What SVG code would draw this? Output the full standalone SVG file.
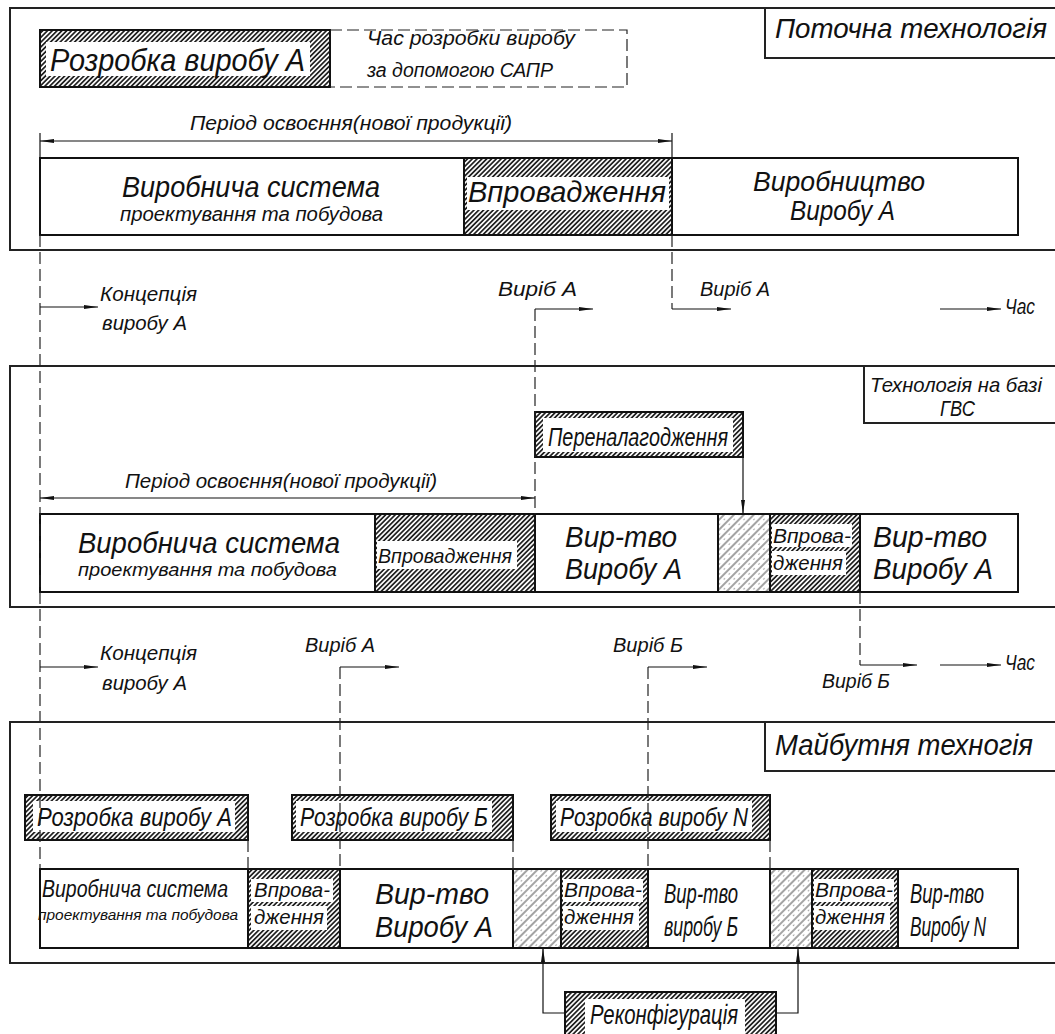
<svg xmlns="http://www.w3.org/2000/svg" width="1055" height="1034" viewBox="0 0 1055 1034">
<defs>
<pattern id="hd" width="3.4" height="3.4" patternUnits="userSpaceOnUse" patternTransform="rotate(45)">
<rect width="3.4" height="3.4" fill="#fff"/>
<line x1="0.9" y1="0" x2="0.9" y2="3.4" stroke="#1a1a1a" stroke-width="1.7"/>
</pattern>
<pattern id="hl" width="7" height="7" patternUnits="userSpaceOnUse" patternTransform="rotate(45)">
<rect width="7" height="7" fill="#fff"/>
<line x1="1" y1="0" x2="1" y2="7" stroke="#333" stroke-width="0.9"/>
<circle cx="4.5" cy="2" r="0.6" fill="#444"/>
</pattern>
<marker id="ar" viewBox="0 0 14 4" refX="14" refY="2" markerWidth="14" markerHeight="4" markerUnits="userSpaceOnUse" orient="auto-start-reverse">
<path d="M0,0 L14,2 L0,4 z" fill="#111"/>
</marker>
<style>
.t{font-family:"Liberation Sans","DejaVu Sans",sans-serif;font-style:italic;fill:#111}
.fr{fill:none;stroke:#222;stroke-width:2}
.bx{fill:#fff;stroke:#111;stroke-width:2}
.hb{fill:url(#hd);stroke:#111;stroke-width:2}
.hl{fill:url(#hl);stroke:#111;stroke-width:2}
.wl{fill:#fff;stroke:none}
.ln{fill:none;stroke:#111;stroke-width:1.2}
.ds{fill:none;stroke:#222;stroke-width:1.2;stroke-dasharray:12 5}
.ah{marker-end:url(#ar)}
.ah2{marker-start:url(#ar);marker-end:url(#ar)}
</style>
</defs>
<rect width="1055" height="1034" fill="#fff"/>

<!-- panel frames -->
<g id="panel1"><rect class="fr" x="10" y="8" width="1060" height="242"/></g>
<g id="panel2"><rect class="fr" x="10" y="366" width="1060" height="241"/></g>
<g id="panel3"><rect class="fr" x="10" y="722" width="1060" height="241"/></g>

<!-- panel 1 -->
<g id="label-potochna">
<rect class="fr" x="765" y="8" width="300" height="50"/>
<text class="t" x="775" y="38" font-size="28" textLength="272" lengthAdjust="spacingAndGlyphs">Поточна технологія</text>
</g>
<g id="rozrobka-top">
<rect class="hb" x="40" y="30" width="290" height="57"/>
<rect class="wl" x="46" y="42" width="264" height="34"/>
<text class="t" x="50" y="71" font-size="31" textLength="255" lengthAdjust="spacingAndGlyphs">Розробка виробу А</text>
</g>
<g id="sapr-time">
<path class="ds" d="M330,30 H627 V87 H330"/>
<text class="t" x="367" y="45" font-size="20" textLength="208" lengthAdjust="spacingAndGlyphs">Час розробки виробу</text>
<text class="t" x="367" y="77" font-size="20" textLength="186" lengthAdjust="spacingAndGlyphs">за допомогою САПР</text>
</g>
<g id="period1">
<text class="t" x="190" y="130" font-size="20" textLength="322" lengthAdjust="spacingAndGlyphs">Період освоєння(нової продукції)</text>
</g>
<g id="bar1">
<rect class="bx" x="40" y="158" width="978" height="77"/>
<text class="t" x="122" y="197" font-size="30" textLength="258" lengthAdjust="spacingAndGlyphs">Виробнича система</text>
<text class="t" x="120" y="221" font-size="20" textLength="263" lengthAdjust="spacingAndGlyphs">проектування та побудова</text>
<text class="t" x="753" y="191" font-size="28" textLength="172" lengthAdjust="spacingAndGlyphs">Виробництво</text>
<text class="t" x="790" y="220" font-size="28" textLength="105" lengthAdjust="spacingAndGlyphs">Виробу А</text>
</g>
<g id="vprov1">
<rect class="hb" x="464" y="158" width="208" height="77"/>
<rect class="wl" x="467" y="177" width="202" height="33"/>
<text class="t" x="468" y="202" font-size="29" textLength="198" lengthAdjust="spacingAndGlyphs">Впровадження</text>
</g>

<!-- between 1 and 2 -->
<g id="concept1">
<text class="t" x="100" y="301" font-size="20" textLength="97" lengthAdjust="spacingAndGlyphs">Концепція</text>
<text class="t" x="102" y="330" font-size="20" textLength="85" lengthAdjust="spacingAndGlyphs">виробу А</text>
</g>
<g id="vyrib-a1"><text class="t" x="498" y="296" font-size="20" textLength="79" lengthAdjust="spacingAndGlyphs">Виріб А</text></g>
<g id="vyrib-a2"><text class="t" x="700" y="296" font-size="20" textLength="70" lengthAdjust="spacingAndGlyphs">Виріб А</text></g>
<g id="chas1"><text class="t" x="1005" y="314" font-size="22" textLength="30" lengthAdjust="spacingAndGlyphs">Час</text></g>

<!-- panel 2 -->
<g id="label-gvs">
<rect class="fr" x="864" y="366" width="200" height="57"/>
<text class="t" x="870" y="392" font-size="21" textLength="172" lengthAdjust="spacingAndGlyphs">Технологія на базі</text>
<text class="t" x="940" y="416" font-size="22" textLength="35" lengthAdjust="spacingAndGlyphs">ГВС</text>
</g>
<g id="perenalag">
<rect class="hb" x="535" y="412" width="208" height="45"/>
<rect class="wl" x="543" y="418" width="190" height="34"/>
<text class="t" x="548" y="446" font-size="26" textLength="180" lengthAdjust="spacingAndGlyphs">Переналагодження</text>
</g>
<g id="period2">
<text class="t" x="125" y="488" font-size="20" textLength="312" lengthAdjust="spacingAndGlyphs">Період освоєння(нової продукції)</text>
</g>
<g id="bar2">
<rect class="bx" x="40" y="514" width="978" height="78"/>
<text class="t" x="78" y="553" font-size="30" textLength="262" lengthAdjust="spacingAndGlyphs">Виробнича система</text>
<text class="t" x="78" y="576" font-size="19" textLength="259" lengthAdjust="spacingAndGlyphs">проектування та побудова</text>
<text class="t" x="565" y="547" font-size="29" textLength="112" lengthAdjust="spacingAndGlyphs">Вир-тво</text>
<text class="t" x="565" y="579" font-size="29" textLength="117" lengthAdjust="spacingAndGlyphs">Виробу А</text>
<text class="t" x="873" y="547" font-size="29" textLength="114" lengthAdjust="spacingAndGlyphs">Вир-тво</text>
<text class="t" x="873" y="579" font-size="29" textLength="120" lengthAdjust="spacingAndGlyphs">Виробу А</text>
</g>
<g id="vprov2">
<rect class="hb" x="375" y="514" width="160" height="78"/>
<rect class="wl" x="377" y="541" width="140" height="28"/>
<text class="t" x="378" y="563" font-size="21" textLength="134" lengthAdjust="spacingAndGlyphs">Впровадження</text>
</g>
<g id="reconf2">
<rect class="hl" x="718" y="514" width="52" height="78"/>
</g>
<g id="vprov2b">
<rect class="hb" x="770" y="514" width="90" height="78"/>
<rect class="wl" x="772" y="524" width="80" height="23"/>
<rect class="wl" x="772" y="551" width="74" height="24"/>
<text class="t" x="773" y="543" font-size="20" textLength="78" lengthAdjust="spacingAndGlyphs">Впрова-</text>
<text class="t" x="773" y="570" font-size="20" textLength="70" lengthAdjust="spacingAndGlyphs">дження</text>
</g>

<!-- between 2 and 3 -->
<g id="concept2">
<text class="t" x="100" y="660" font-size="20" textLength="97" lengthAdjust="spacingAndGlyphs">Концепція</text>
<text class="t" x="102" y="690" font-size="20" textLength="85" lengthAdjust="spacingAndGlyphs">виробу А</text>
</g>
<g id="vyrib-a3"><text class="t" x="305" y="652" font-size="20" textLength="70" lengthAdjust="spacingAndGlyphs">Виріб А</text></g>
<g id="vyrib-b1"><text class="t" x="613" y="652" font-size="20" textLength="70" lengthAdjust="spacingAndGlyphs">Виріб Б</text></g>
<g id="vyrib-b2"><text class="t" x="822" y="688" font-size="20" textLength="68" lengthAdjust="spacingAndGlyphs">Виріб Б</text></g>
<g id="chas2"><text class="t" x="1005" y="670" font-size="22" textLength="30" lengthAdjust="spacingAndGlyphs">Час</text></g>

<!-- panel 3 -->
<g id="label-maybutnya">
<rect class="fr" x="765" y="722" width="300" height="49"/>
<text class="t" x="775" y="755" font-size="30" textLength="258" lengthAdjust="spacingAndGlyphs">Майбутня техногія</text>
</g>
<g id="rozrobka-a">
<rect class="hb" x="25" y="795" width="223" height="45"/>
<rect class="wl" x="33" y="801" width="202" height="31"/>
<text class="t" x="37" y="826" font-size="26" textLength="195" lengthAdjust="spacingAndGlyphs">Розробка виробу А</text>
</g>
<g id="rozrobka-b">
<rect class="hb" x="292" y="795" width="221" height="45"/>
<rect class="wl" x="296" y="801" width="196" height="31"/>
<text class="t" x="300" y="826" font-size="26" textLength="188" lengthAdjust="spacingAndGlyphs">Розробка виробу Б</text>
</g>
<g id="rozrobka-n">
<rect class="hb" x="551" y="795" width="219" height="45"/>
<rect class="wl" x="556" y="801" width="196" height="31"/>
<text class="t" x="560" y="826" font-size="26" textLength="188" lengthAdjust="spacingAndGlyphs">Розробка виробу N</text>
</g>
<g id="bar3">
<rect class="bx" x="40" y="869" width="978" height="79"/>
<text class="t" x="42" y="897" font-size="23" textLength="186" lengthAdjust="spacingAndGlyphs">Виробнича система</text>
<text class="t" x="38" y="920" font-size="15" textLength="200" lengthAdjust="spacingAndGlyphs">проектування та побудова</text>
<text class="t" x="375" y="904" font-size="30" textLength="114" lengthAdjust="spacingAndGlyphs">Вир-тво</text>
<text class="t" x="375" y="937" font-size="30" textLength="118" lengthAdjust="spacingAndGlyphs">Виробу А</text>
<text class="t" x="664" y="903" font-size="27" textLength="74" lengthAdjust="spacingAndGlyphs">Вир-тво</text>
<text class="t" x="664" y="936" font-size="27" textLength="74" lengthAdjust="spacingAndGlyphs">виробу Б</text>
<text class="t" x="910" y="903" font-size="27" textLength="74" lengthAdjust="spacingAndGlyphs">Вир-тво</text>
<text class="t" x="910" y="936" font-size="27" textLength="76" lengthAdjust="spacingAndGlyphs">Виробу N</text>
</g>
<g id="vprov3a">
<rect class="hb" x="248" y="869" width="92" height="79"/>
<rect class="wl" x="251" y="879" width="82" height="23"/>
<rect class="wl" x="251" y="906" width="76" height="24"/>
<text class="t" x="254" y="897" font-size="20" textLength="76" lengthAdjust="spacingAndGlyphs">Впрова-</text>
<text class="t" x="254" y="924" font-size="20" textLength="70" lengthAdjust="spacingAndGlyphs">дження</text>
</g>
<g id="reconf3a"><rect class="hl" x="513" y="869" width="48" height="79"/></g>
<g id="vprov3b">
<rect class="hb" x="561" y="869" width="87" height="79"/>
<rect class="wl" x="563" y="879" width="80" height="23"/>
<rect class="wl" x="563" y="906" width="76" height="24"/>
<text class="t" x="564" y="897" font-size="20" textLength="78" lengthAdjust="spacingAndGlyphs">Впрова-</text>
<text class="t" x="564" y="924" font-size="20" textLength="70" lengthAdjust="spacingAndGlyphs">дження</text>
</g>
<g id="reconf3b"><rect class="hl" x="770" y="869" width="42" height="79"/></g>
<g id="vprov3c">
<rect class="hb" x="812" y="869" width="86" height="79"/>
<rect class="wl" x="814" y="879" width="80" height="23"/>
<rect class="wl" x="814" y="906" width="76" height="24"/>
<text class="t" x="815" y="897" font-size="20" textLength="78" lengthAdjust="spacingAndGlyphs">Впрова-</text>
<text class="t" x="815" y="924" font-size="20" textLength="70" lengthAdjust="spacingAndGlyphs">дження</text>
</g>
<g id="rekonfig">
<rect class="hb" x="565" y="992" width="211" height="50"/>
<rect class="wl" x="585" y="999" width="160" height="35"/>
<text class="t" x="590" y="1024" font-size="27" textLength="148" lengthAdjust="spacingAndGlyphs">Реконфігурація</text>
</g>

<!-- connectors -->
<g id="connectors">
<line class="ln ah2" x1="40" y1="141" x2="672" y2="141"/>
<line class="ln" x1="40" y1="133" x2="40" y2="158"/>
<line class="ln" x1="672" y1="133" x2="672" y2="158"/>
<line class="ds" x1="40" y1="235" x2="40" y2="869"/>
<line class="ln ah" x1="40" y1="307" x2="98" y2="307"/>
<line class="ds" x1="535" y1="309" x2="535" y2="514"/>
<line class="ln ah" x1="535" y1="309" x2="593" y2="309"/>
<line class="ds" x1="672" y1="235" x2="672" y2="309"/>
<line class="ln ah" x1="672" y1="309" x2="731" y2="309"/>
<line class="ln ah" x1="940" y1="309" x2="1001" y2="309"/>
<line class="ln ah2" x1="40" y1="498" x2="535" y2="498"/>
<line class="ln ah" x1="743" y1="457" x2="743" y2="514"/>
<line class="ds" x1="860" y1="592" x2="860" y2="665"/>
<line class="ln ah" x1="860" y1="665" x2="917" y2="665"/>
<line class="ln ah" x1="940" y1="665" x2="1001" y2="665"/>
<line class="ln ah" x1="40" y1="667" x2="98" y2="667"/>
<line class="ds" x1="340" y1="667" x2="340" y2="869"/>
<line class="ln ah" x1="340" y1="667" x2="399" y2="667"/>
<line class="ds" x1="648" y1="667" x2="648" y2="869"/>
<line class="ln ah" x1="648" y1="667" x2="707" y2="667"/>
<line class="ds" x1="248" y1="840" x2="248" y2="869"/>
<line class="ds" x1="513" y1="840" x2="513" y2="869"/>
<line class="ds" x1="770" y1="840" x2="770" y2="869"/>
<polyline class="ln ah" points="565,1013 543,1013 543,948"/>
<polyline class="ln ah" points="776,1013 798,1013 798,948"/>
</g>
</svg>
